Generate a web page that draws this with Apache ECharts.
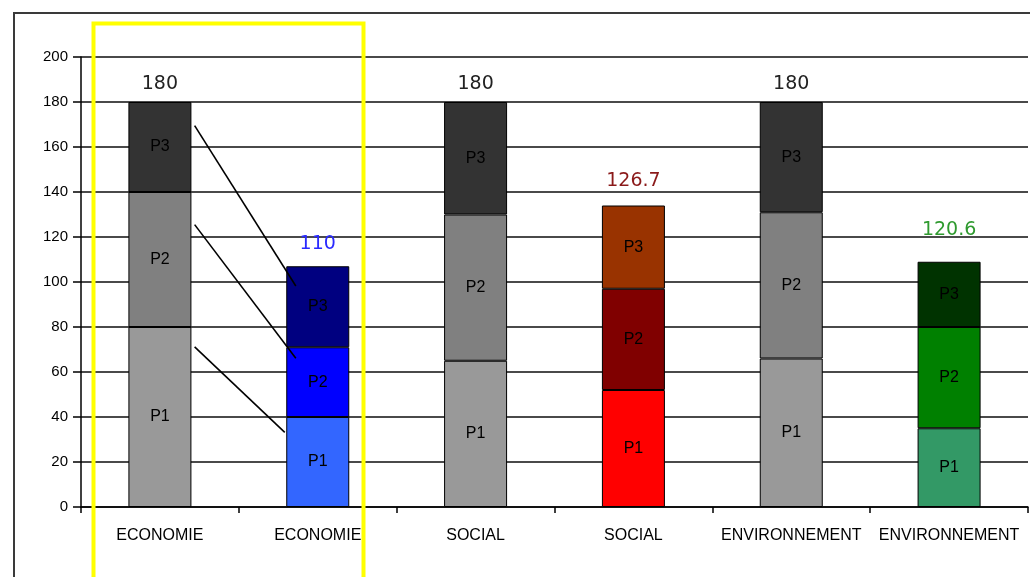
<!DOCTYPE html>
<html>
<head>
<meta charset="utf-8">
<script src="https://cdn.jsdelivr.net/npm/echarts@6/dist/echarts.min.js"></script>
<style>
html,body{margin:0;padding:0;background:#fff;}
#c{width:1030px;height:577px;}
</style>
</head>
<body>
<div id="c"></div>
<script>
var categories = ['ECONOMIE','ECONOMIE','SOCIAL','SOCIAL','ENVIRONNEMENT','ENVIRONNEMENT'];
var p1 = [80, 40, 65, 52, 66, 35];
var p2 = [60, 31, 65, 45, 65, 45];
var p3 = [40, 36, 50, 37, 49, 29];
var totalLabels = ['180','110','180','126.7','180','120.6'];
var segNames = ['P1','P2','P3'];
var yTicks = [0,20,40,60,80,100,120,140,160,180,200];
// connector annotations, in data units (x: category units from 0 to 6)
var connA = [[0.72,169.5],[1.361,98.2]];
var connB = [[0.72,125.5],[1.361,66.1]];
var connC = [[0.72,71.2],[1.291,33.2]];

var p1Colors = ['#999999','#3366ff','#999999','#ff0000','#999999','#339966'];
var p2Colors = ['#808080','#0000ff','#808080','#800000','#808080','#008000'];
var p3Colors = ['#333333','#000080','#333333','#993300','#333333','#003300'];
var totalColors = ['#222222','#2a2aff','#222222','#8b1a1a','#222222','#2f9a2f'];
var totalDist = [8, 13, 8, 15, 8, 22];

var chart = echarts.init(document.getElementById('c'), null, {renderer:'canvas'});

function seg(vals, colors, name){
  return {
    name: name, type:'bar', stack:'s', barWidth: 63,
    data: vals.map(function(v,i){ return {value:v, itemStyle:{color:colors[i]}}; }),
    itemStyle:{borderColor:'#000', borderWidth:1},
    label:{show:true, position:'inside', formatter:name, color:'#000',
      fontFamily:'Liberation Sans', fontSize:16},
    z:3
  };
}
function conn(d){
  return {type:'line', xAxisIndex:1, yAxisIndex:0, data:d, symbol:'none',
    lineStyle:{color:'#000', width:1.6}, z:5, silent:true};
}

var series = [
  seg(p1, p1Colors, segNames[0]),
  seg(p2, p2Colors, segNames[1]),
  seg(p3, p3Colors, segNames[2]),
  {
    type:'bar', stack:'s', barWidth:63,
    data: totalLabels.map(function(t,i){
      return {value:0, label:{distance: totalDist[i], color: totalColors[i]}};
    }),
    itemStyle:{color:'rgba(0,0,0,0)', borderWidth:0},
    label:{show:true, position:'top', fontFamily:'DejaVu Sans', fontSize:19,
      formatter:function(p){ return totalLabels[p.dataIndex]; }},
    z:4
  },
  conn(connA), conn(connB), conn(connC)
];

chart.setOption({
  animation:false,
  backgroundColor:'#fff',
  grid:{left:81, right:2, top:57, bottom:70, containLabel:false},
  xAxis:[{
    type:'category', data:categories,
    axisLine:{lineStyle:{color:'#000', width:1.5}},
    axisTick:{show:true, length:6, lineStyle:{color:'#000', width:1.5}},
    axisLabel:{color:'#000', fontFamily:'Liberation Sans', fontSize:16, margin:21, interval:0},
    splitLine:{show:false}
  },{
    type:'value', min:0, max:6, show:false
  }],
  yAxis:{
    type:'value', min:0, max:200, interval:20,
    axisLine:{show:true, lineStyle:{color:'#000', width:1.5}},
    axisTick:{show:true, length:8, lineStyle:{color:'#000', width:1.5}},
    axisLabel:{color:'#000', fontFamily:'Liberation Sans', fontSize:15, margin:13,
      formatter:function(v){ return yTicks.indexOf(v) >= 0 ? String(v) : ''; }},
    splitLine:{show:true, lineStyle:{color:'#4a4a4a', width:2}}
  },
  series: series,
  graphic:[
    {type:'rect', shape:{x:14, y:13, width:1100, height:700},
      style:{fill:null, stroke:'#3a3a3a', lineWidth:2}, z:100, silent:true},
    {type:'rect', shape:{x:93.5, y:23.5, width:270, height:700},
      style:{fill:null, stroke:'#ffff00', lineWidth:4}, z:101, silent:true}
  ]
});
</script>
</body>
</html>
